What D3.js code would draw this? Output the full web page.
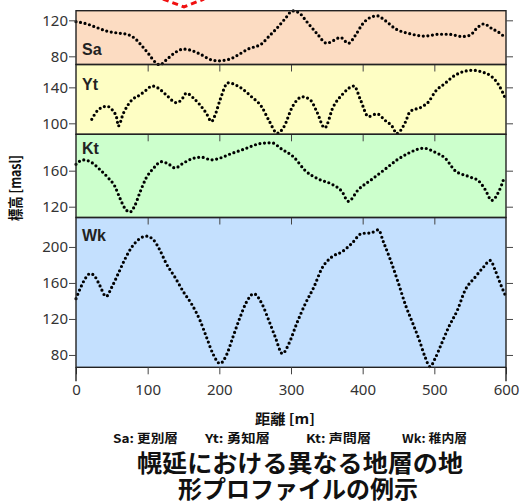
<!DOCTYPE html>
<html lang="ja">
<head>
<meta charset="utf-8">
<title>幌延における異なる地層の地形プロファイル</title>
<script src="https://d3js.org/d3.v7.min.js"></script>
<style>
  body { margin: 0; background: #fff; }
  .tick text { font-family: "Noto Sans", "DejaVu Sans", sans-serif; font-size: 15px; fill: #333; }
  .tick line { stroke: #444; }
  .cjk { font-family: "Noto Sans CJK JP", sans-serif; font-weight: bold; fill: #111; }
</style>
</head>
<body>
<script>
// elevation profiles [distance m, elevation masl]
const saProfile = [[0,118.5],[15,116],[29,112],[43,108],[57,106],[71,104.5],[82,100],[91,92.5],[101,83],[110,74],[117,70.5],[126,76],[138,84],[150,88],[159,87],[173,82.5],[189,76],[198,75],[215,77],[226,81.5],[240,88],[260,94.5],[269,102],[280,111],[292,122],[302,130.5],[311,128.5],[322,118.5],[336,105.5],[350,94.5],[359,97.5],[369,101],[380,94.5],[390,103.5],[399,115],[408,122],[420,125],[431,120],[446,110.5],[464,105.5],[487,102.5],[506,104.5],[520,104.5],[539,102],[550,103.5],[559,111],[569,116],[580,111],[592,105.5],[600,100]];
const ytProfile = [[22,104.5],[31,115],[43,119],[50,115.5],[57,105.5],[59,97],[66,111],[78,126],[89,131.5],[98,137],[106,141.5],[115,139],[126,131.5],[140,123],[147,126],[154,133.5],[164,128],[173,120.5],[182,111],[189,102],[194,109],[201,126],[212,145],[229,140],[245,129.5],[259,118.5],[269,103.5],[281,89],[290,96],[302,118.5],[316,129.5],[327,126],[336,113],[347,95],[359,118.5],[371,131.5],[388,141.5],[397,126],[408,107.5],[420,110.5],[431,103.5],[443,94.5],[447,88.5],[460,102],[466,113],[483,118.5],[492,124],[501,135],[515,144.5],[529,153.5],[553,159],[567,157],[580,152],[590,142.5],[600,126]];
const ktProfile = [[0,167],[10,172],[22,169],[33,161.5],[45,152],[54,143],[61,130],[68,118.5],[75,114],[82,121],[89,135.5],[98,152],[108,162.5],[119,170],[129,167.5],[138,163],[150,168.5],[161,173],[175,175],[189,172],[201,174],[215,178.5],[233,183.5],[260,190.5],[273,191],[287,184],[304,175],[320,160],[339,150.5],[357,145],[371,137],[380,126],[394,139],[413,150.5],[431,161.5],[448,172],[464,179.5],[485,185],[501,180.5],[515,174],[529,160],[548,153.5],[562,148.5],[571,139],[580,127],[590,137],[598,153.5]];
const wkProfile = [[0,142.5],[6,154],[13,165],[20,170.5],[27,166.5],[33,157.5],[42,145],[50,155.5],[59,170.5],[68,186],[78,200],[87,208],[98,212],[108,208],[117,196.5],[126,181.5],[138,166.5],[150,150],[161,137],[173,118.5],[182,100],[191,81.5],[201,70.5],[210,80],[219,100],[229,122],[238,139],[248,148],[260,136],[269,118.5],[278,100],[288,81.5],[297,92.5],[308,115],[320,137],[332,155.5],[343,176],[357,189],[371,194.5],[385,204],[399,215],[411,215.5],[422,219],[429,205.5],[439,185],[450,159.5],[460,135],[470,115],[479,96.5],[487,78],[494,67],[501,76],[510,92.5],[520,111],[532,129.5],[543,152],[557,166.5],[569,178],[578,185],[585,174],[592,159.5],[600,144.5]];

const layerNames = ["Sa", "Yt", "Kt", "Wk"];
const layerProfiles = [saProfile, ytProfile, ktProfile, wkProfile];
const layerDomains = [[70.9, 130.7], [87.8, 165.4], [108, 200.4], [66.3, 232.7]];
const layerTicks = [[80, 120], [100, 140], [120, 160], [80, 120, 160, 200]];
const xTicks = [0, 100, 200, 300, 400, 500, 600];
const legendItems = ["Sa: 更別層", "Yt: 勇知層", "Kt: 声問層", "Wk: 稚内層"];

const width = 524, height = 504;
const left = 76, right = 506;
const panelTops = [10.7, 64.5, 134.3, 217.5, 367.3];   // panel edges (px)
const fills = ["#fcdcc2", "#fefec4", "#ccffcc", "#c4e0fe"];
const labelDy = [44, 25.5, 20, 23];

const svg = d3.select("body").append("svg")
  .attr("width", width).attr("height", height);

const x = d3.scaleLinear().domain([0, 600]).range([left, right]);

// red dashed marker at the top
svg.append("path")
  .attr("d", "M163,-1L184,7L204,-1")
  .attr("fill", "none").attr("stroke", "#f01010")
  .attr("stroke-width", 3).attr("stroke-dasharray", "6 4");

const ys = layerNames.map((n, i) => d3.scaleLinear()
  .domain(layerDomains[i]).range([panelTops[i + 1], panelTops[i]]));

// backgrounds
layerNames.forEach((n, i) => {
  svg.append("rect")
    .attr("x", left).attr("y", panelTops[i])
    .attr("width", right - left).attr("height", panelTops[i + 1] - panelTops[i])
    .attr("fill", fills[i]);
});

// curves
layerNames.forEach((n, i) => {
  const l = d3.line().x(d => x(d[0])).y(d => ys[i](d[1])).curve(d3.curveMonotoneX);
  svg.append("path")
    .datum(layerProfiles[i])
    .attr("d", l)
    .attr("fill", "none")
    .attr("stroke", "#000")
    .attr("stroke-width", 3.2)
    .attr("stroke-linecap", "round")
    .attr("stroke-dasharray", "0 4.6");

  svg.append("text")
    .attr("x", left + 6).attr("y", panelTops[i] + labelDy[i])
    .attr("font-family", "'Liberation Sans Narrow', 'Liberation Sans', sans-serif")
    .attr("font-weight", "bold").attr("font-size", 16).attr("fill", "#222")
    .text(n);
});

// frames and axes
layerNames.forEach((n, i) => {
  svg.append("rect")
    .attr("x", left).attr("y", panelTops[i])
    .attr("width", right - left).attr("height", panelTops[i + 1] - panelTops[i])
    .attr("fill", "none").attr("stroke", "#222").attr("stroke-width", 1.4);

  const ax = svg.append("g").attr("transform", `translate(${left},0)`)
    .call(d3.axisLeft(ys[i]).tickValues(layerTicks[i]).tickSize(7).tickPadding(1));
  ax.select(".domain").remove();

  const ar = svg.append("g").attr("transform", `translate(${right},0)`)
    .call(d3.axisRight(ys[i]).tickValues(layerTicks[i]).tickSize(7).tickFormat(""));
  ar.select(".domain").remove();

  const last = i === layerNames.length - 1;
  const ab = svg.append("g").attr("transform", `translate(0,${panelTops[i + 1]})`)
    .call(d3.axisBottom(x).tickValues(last ? xTicks : xTicks.slice(1, -1))
      .tickSize(7).tickPadding(10).tickFormat(last ? d3.format("d") : ""));
  ab.select(".domain").remove();
});

// long end ticks at the bottom axis
[0, 600].forEach(v => {
  svg.append("line")
    .attr("x1", x(v)).attr("x2", x(v))
    .attr("y1", panelTops[4]).attr("y2", panelTops[4] + 14)
    .attr("stroke", "#222").attr("stroke-width", 1.4);
});

// y label
svg.append("text").attr("class", "cjk")
  .attr("transform", "translate(21,188) rotate(-90)")
  .attr("text-anchor", "middle").attr("font-size", 15)
  .attr("textLength", 66).attr("lengthAdjust", "spacingAndGlyphs")
  .text("標高 [masl]");

// x label
svg.append("text").attr("class", "cjk")
  .attr("x", 285).attr("y", 424).attr("text-anchor", "middle")
  .attr("font-size", 14).attr("textLength", 60).attr("lengthAdjust", "spacingAndGlyphs")
  .text("距離 [m]");

// legend of formations
const legendX = [113, 205, 306, 402];
legendItems.forEach((t, i) => {
  svg.append("text").attr("class", "cjk")
    .attr("x", legendX[i]).attr("y", 443)
    .attr("font-size", 12).attr("textLength", 65).attr("lengthAdjust", "spacingAndGlyphs")
    .text(t);
});

// title
const title = svg.append("text").attr("class", "cjk")
  .attr("text-anchor", "middle").attr("font-size", 24);
title.append("tspan").attr("x", 300).attr("y", 472)
  .attr("textLength", 326).attr("lengthAdjust", "spacingAndGlyphs")
  .text("幌延における異なる地層の地");
title.append("tspan").attr("x", 298).attr("y", 498)
  .attr("textLength", 240).attr("lengthAdjust", "spacingAndGlyphs")
  .text("形プロファイルの例示");
</script>
</body>
</html>
